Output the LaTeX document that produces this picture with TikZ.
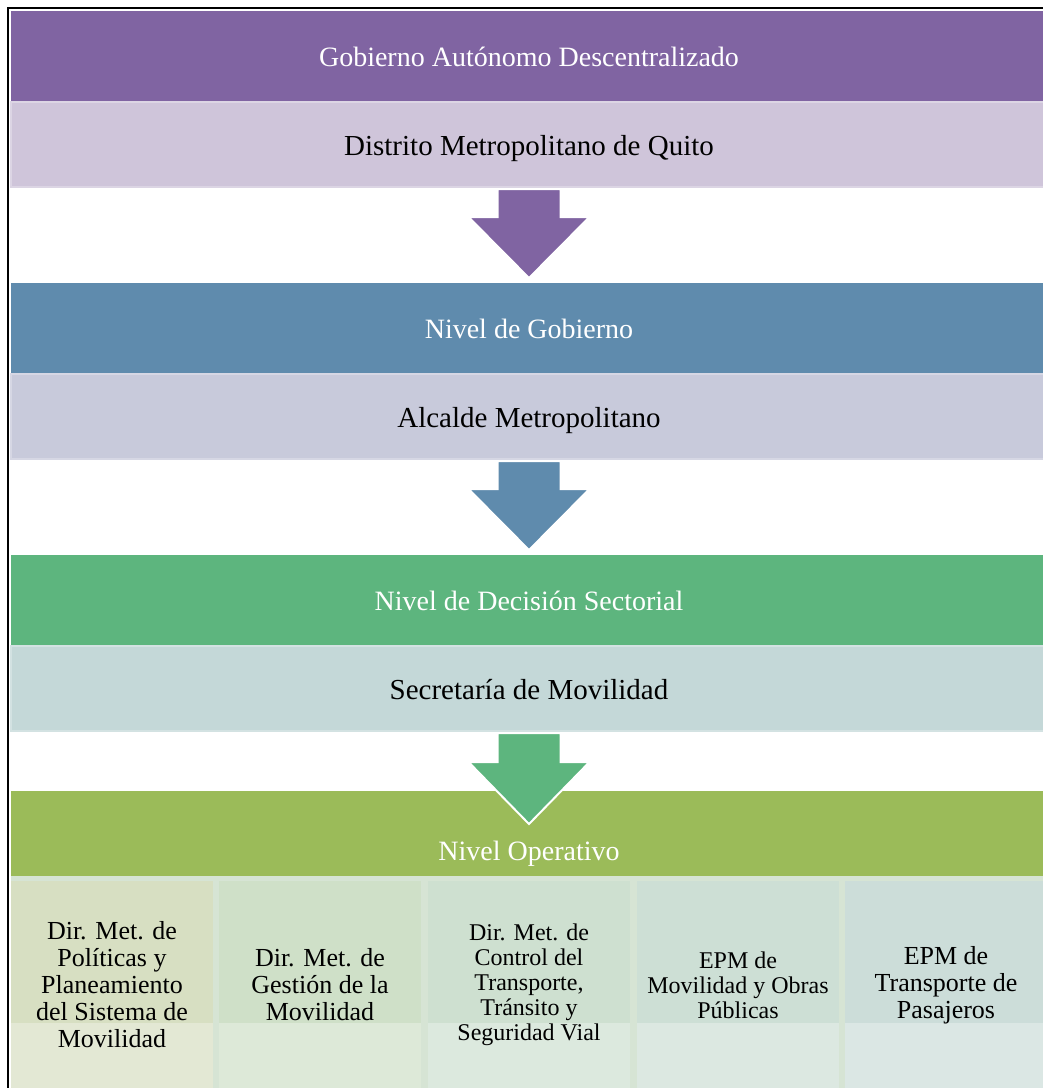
\documentclass[tikz,border=0pt]{standalone}
\usepackage{fontspec}
\setmainfont{Liberation Serif}
\usetikzlibrary{positioning}
\definecolor{morado}{HTML}{8064A2}
\definecolor{moradoclaro}{HTML}{CFC5DA}
\definecolor{moradoborde}{HTML}{DCD5E4}
\definecolor{azul}{HTML}{5F8BAD}
\definecolor{azulclaro}{HTML}{C8CADB}
\definecolor{azulborde}{HTML}{D6D7E4}
\definecolor{verde}{HTML}{5DB57E}
\definecolor{verdeclaro}{HTML}{C4D8D8}
\definecolor{verdeborde}{HTML}{D3E2E2}
\definecolor{oliva}{HTML}{9BBB59}
\definecolor{colgap}{HTML}{D6E4D4}
\definecolor{colA}{HTML}{D7DFC2}
\definecolor{colB}{HTML}{CFE0C8}
\definecolor{colC}{HTML}{CEE0D0}
\definecolor{colD}{HTML}{CDDFD5}
\definecolor{colE}{HTML}{CCDDD9}
\tikzset{
  nivel/.style={minimum width=1036pt,minimum height=90pt,inner sep=0pt,outer sep=0pt,
    text=white,text height=20pt,text depth=0pt,font=\fontsize{28}{32}\selectfont},
  cargo/.style={minimum width=1036pt,minimum height=85pt,inner sep=0pt,outer sep=0pt,
    line width=2.5pt,text height=21pt,text depth=0pt,font=\fontsize{29}{33}\selectfont},
  unidad/.style={minimum width=202pt,minimum height=208pt,inner sep=0pt,outer sep=0pt,
    align=center,font=\fontsize{26}{27}\selectfont,
    path picture={\fill[white,opacity=.3] (path picture bounding box.south west)
      rectangle ([yshift=66pt]path picture bounding box.south east);}},
  unidadchica/.style={unidad,font=\fontsize{24}{25}\selectfont},
  flecha/.style={draw=white,line width=2pt,line join=miter}}

\begin{document}
\begin{tikzpicture}[x=1pt,y=-1pt]
  \useasboundingbox (0,0) rectangle (1043,1088);
  % niveles
  \node [nivel,fill=morado] (gad) at (529,56) {Gobierno Autónomo Descentralizado};
  \node [cargo,fill=moradoclaro,draw=moradoborde,below=1pt of gad] (dmq) {Distrito Metropolitano de Quito};
  \node [nivel,fill=azul,below=96pt of dmq] (gob) {Nivel de Gobierno};
  \node [cargo,fill=azulclaro,draw=azulborde,below=1pt of gob] (alc) {Alcalde Metropolitano};
  \node [nivel,fill=verde,below=96pt of alc] (dec) {Nivel de Decisión Sectorial};
  \node [cargo,fill=verdeclaro,draw=verdeborde,below=1pt of dec] (sec) {Secretaría de Movilidad};
  \node [nivel,fill=oliva,minimum height=85pt,text height=69pt,text depth=16pt,below=60pt of sec] (ope) {Nivel Operativo};
  % unidades operativas
  \fill [colgap] (ope.south west) rectangle (1047,1090);
  \node [unidad,fill=colA] (dir1) at (112,985) {Dir. Met. de\\Políticas y\\Planeamiento\\del Sistema de\\Movilidad};
  \node [unidad,fill=colB] (dir2) at (320,985) {Dir. Met. de\\Gestión de la\\Movilidad};
  \node [unidadchica,fill=colC] (dir3) at (529,985) {Dir. Met. de\\Control del\\Transporte,\\Tránsito y\\Seguridad Vial};
  \node [unidadchica,fill=colD] (epm1) at (738,985) {EPM de\\Movilidad y Obras\\Públicas};
  \node [unidad,fill=colE] (epm2) at (946,985) {EPM de\\Transporte de\\Pasajeros};
  % flechas
  \draw [flecha,fill=morado] ([xshift=-31.5pt,yshift=-2pt]dmq.south) -- ++(0,28) -- ++(-29,0) -- ++(60.5,61)
    -- ++(60.5,-61) -- ++(-29,0) -- ++(0,-28) -- cycle;
  \draw [flecha,fill=azul] ([xshift=-31.5pt,yshift=-2pt]alc.south) -- ++(0,28) -- ++(-29,0) -- ++(60.5,61)
    -- ++(60.5,-61) -- ++(-29,0) -- ++(0,-28) -- cycle;
  \draw [flecha,fill=verde] ([xshift=-31.5pt,yshift=-2pt]sec.south) -- ++(0,29) -- ++(-29,0) -- ++(60.5,62)
    -- ++(60.5,-62) -- ++(-29,0) -- ++(0,-29) -- cycle;
  % marco
  \draw [line width=2pt] (8,1090) -- (8,8) -- (1045,8);
\end{tikzpicture}
\end{document}
